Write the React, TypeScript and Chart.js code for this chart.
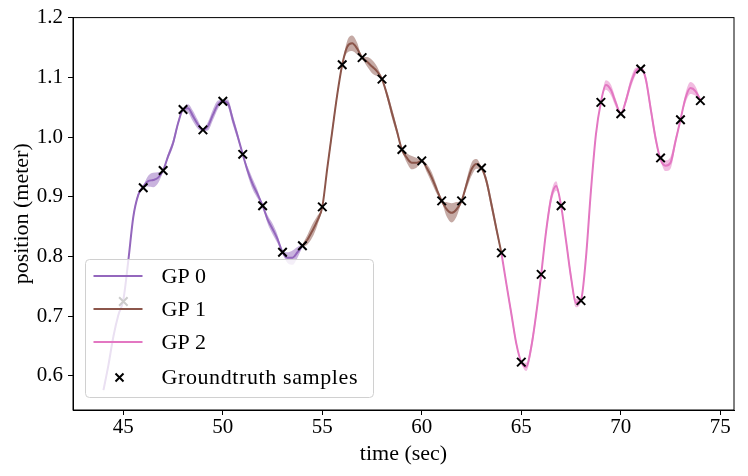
import { useEffect, useRef } from 'react';
import { Chart, registerables } from 'chart.js';

Chart.register(...registerables);

// GP 0 (purple) — every quarter second
const gp0Time = [44, 44.25, 44.5, 44.75, 45, 45.25, 45.5, 45.75, 46, 46.25, 46.5, 46.75, 47, 47.25, 47.5, 47.75, 48, 48.25, 48.5, 48.75, 49, 49.25, 49.5, 49.75, 50, 50.25, 50.5, 50.75, 51, 51.25, 51.5, 51.75, 52, 52.25, 52.5, 52.75, 53, 53.25, 53.5, 53.75, 54];
const gp0Mean = [0.576, 0.618, 0.666, 0.702, 0.727, 0.793, 0.866, 0.903, 0.917, 0.926, 0.928, 0.932, 0.944, 0.968, 0.99, 1.023, 1.046, 1.048, 1.035, 1.021, 1.012, 1.018, 1.037, 1.054, 1.06, 1.057, 1.029, 1.001, 0.971, 0.943, 0.921, 0.904, 0.885, 0.862, 0.846, 0.829, 0.807, 0.798, 0.798, 0.807, 0.818];
const gp0Spread = [0.003, 0.003, 0.003, 0.003, 0.002, 0.004, 0.004, 0.004, 0.002, 0.009, 0.012, 0.009, 0.002, 0.005, 0.006, 0.005, 0.002, 0.007, 0.009, 0.007, 0.002, 0.007, 0.009, 0.007, 0.002, 0.006, 0.008, 0.006, 0.002, 0.007, 0.009, 0.007, 0.002, 0.007, 0.009, 0.007, 0.002, 0.009, 0.012, 0.009, 0.002];

// GP 1 (brown)
const gp1Time = [54, 54.25, 54.5, 54.75, 55, 55.25, 55.5, 55.75, 56, 56.25, 56.5, 56.75, 57, 57.25, 57.5, 57.75, 58, 58.25, 58.5, 58.75, 59, 59.25, 59.5, 59.75, 60, 60.25, 60.5, 60.75, 61, 61.25, 61.5, 61.75, 62, 62.25, 62.5, 62.75, 63, 63.25, 63.5, 63.75, 64];
const gp1Mean = [0.818, 0.828, 0.843, 0.86, 0.883, 0.948, 1.01, 1.071, 1.121, 1.151, 1.157, 1.148, 1.133, 1.126, 1.118, 1.11, 1.097, 1.071, 1.04, 1.01, 0.979, 0.965, 0.957, 0.957, 0.96, 0.948, 0.932, 0.912, 0.893, 0.879, 0.873, 0.879, 0.893, 0.921, 0.946, 0.955, 0.948, 0.926, 0.887, 0.846, 0.806];
const gp1Spread = [0.002, 0.008, 0.011, 0.008, 0.002, 0.005, 0.007, 0.005, 0.002, 0.01, 0.013, 0.01, 0.002, 0.008, 0.011, 0.008, 0.002, 0.006, 0.008, 0.006, 0.002, 0.008, 0.011, 0.008, 0.002, 0.007, 0.009, 0.007, 0.002, 0.012, 0.016, 0.012, 0.002, 0.008, 0.011, 0.008, 0.002, 0.007, 0.009, 0.007, 0.002];

// GP 2 (pink)
const gp2Time = [64, 64.25, 64.5, 64.75, 65, 65.25, 65.5, 65.75, 66, 66.25, 66.5, 66.75, 67, 67.25, 67.5, 67.75, 68, 68.25, 68.5, 68.75, 69, 69.25, 69.5, 69.75, 70, 70.25, 70.5, 70.75, 71, 71.25, 71.5, 71.75, 72, 72.25, 72.5, 72.75, 73, 73.25, 73.5, 73.75, 74];
const gp2Mean = [0.806, 0.754, 0.704, 0.654, 0.623, 0.615, 0.648, 0.704, 0.77, 0.843, 0.898, 0.918, 0.885, 0.826, 0.765, 0.722, 0.727, 0.798, 0.91, 1.004, 1.058, 1.087, 1.079, 1.057, 1.039, 1.06, 1.09, 1.11, 1.115, 1.098, 1.048, 0.998, 0.962, 0.952, 0.957, 0.993, 1.029, 1.065, 1.082, 1.077, 1.062];
const gp2Spread = [0.002, 0.005, 0.007, 0.005, 0.002, 0.007, 0.009, 0.007, 0.002, 0.007, 0.009, 0.008, 0.002, 0.006, 0.008, 0.007, 0.002, 0.005, 0.007, 0.005, 0.002, 0.008, 0.009, 0.007, 0.002, 0.006, 0.008, 0.006, 0.002, 0.007, 0.009, 0.008, 0.002, 0.009, 0.01, 0.007, 0.002, 0.008, 0.01, 0.008, 0.002];

// groundtruth samples, one per second
const sampleTime = [45, 46, 47, 48, 49, 50, 51, 52, 53, 54, 55, 56, 57, 58, 59, 60, 61, 62, 63, 64, 65, 66, 67, 68, 69, 70, 71, 72, 73, 74];
const samplePosition = [0.7245, 0.915, 0.944, 1.046, 1.012, 1.06, 0.971, 0.885, 0.807, 0.818, 0.883, 1.121, 1.133, 1.097, 0.979, 0.96, 0.893, 0.893, 0.948, 0.806, 0.623, 0.77, 0.885, 0.726, 1.058, 1.039, 1.114, 0.965, 1.029, 1.061];

const xTickValues = [45, 50, 55, 60, 65, 70, 75];
const yTickValues = [0.6, 0.7, 0.8, 0.9, 1.0, 1.1, 1.2];

const gpLabels = ['GP 0', 'GP 1', 'GP 2'];
const gpColors = ['#9467bd', '#8c564b', '#e377c2'];
const gpBands = ['rgba(148, 103, 189, 0.5)', 'rgba(140, 86, 75, 0.5)', 'rgba(227, 119, 194, 0.5)'];
const sampleLabel = 'Groundtruth samples';

const serif = '"Liberation Serif", "Times New Roman", serif';

const toPoints = (xs: number[], ys: number[]) => xs.map((x, i) => ({ x, y: ys[i] }));

// matplotlib-style legend box in the lower left, plus the full axes frame
const framePlugin = {
  id: 'frameAndLegend',
  afterDraw(chart: any) {
    const { ctx, chartArea } = chart;
    ctx.save();
    ctx.strokeStyle = '#000';
    ctx.lineWidth = 1;
    ctx.strokeRect(chartArea.left, chartArea.top, chartArea.right - chartArea.left, chartArea.bottom - chartArea.top);

    const bx = 85.5, by = 259.5, bw = 288, bh = 138;
    ctx.beginPath();
    ctx.roundRect(bx, by, bw, bh, 4);
    ctx.fillStyle = 'rgba(255, 255, 255, 0.8)';
    ctx.fill();
    ctx.strokeStyle = '#d0d0d0';
    ctx.stroke();

    const rowY = [276, 309, 342, 377.5];
    ctx.font = `22px ${serif}`;
    ctx.textBaseline = 'alphabetic';
    ctx.fillStyle = '#000';
    gpLabels.forEach((label, i) => {
      ctx.strokeStyle = gpColors[i];
      ctx.lineWidth = 2;
      ctx.beginPath();
      ctx.moveTo(93.5, rowY[i]);
      ctx.lineTo(142.5, rowY[i]);
      ctx.stroke();
      ctx.fillText(label, 161.5, rowY[i] + 6.5);
    });
    const my = rowY[3];
    ctx.strokeStyle = '#000';
    ctx.lineWidth = 2;
    ctx.beginPath();
    ctx.moveTo(115.5, my - 4);
    ctx.lineTo(123.5, my + 4);
    ctx.moveTo(123.5, my - 4);
    ctx.lineTo(115.5, my + 4);
    ctx.stroke();
    ctx.letterSpacing = '0.6px';
    ctx.fillText(sampleLabel, 161.5, my + 6);
    ctx.restore();
  },
};

const App: React.FC = () => {
  const canvasRef = useRef<HTMLCanvasElement | null>(null);

  useEffect(() => {
    const canvas = canvasRef.current;
    if (!canvas) {
      return;
    }

    const series = [
      { time: gp0Time, mean: gp0Mean, spread: gp0Spread },
      { time: gp1Time, mean: gp1Mean, spread: gp1Spread },
      { time: gp2Time, mean: gp2Mean, spread: gp2Spread },
    ];

    const datasets: any[] = [];
    series.forEach((s, g) => {
      datasets.push({
        label: `${gpLabels[g]} lower`,
        data: toPoints(s.time, s.mean.map((m, i) => m - s.spread[i])),
        borderWidth: 0,
        pointRadius: 0,
        fill: false,
        cubicInterpolationMode: 'monotone',
        order: 2,
      });
      datasets.push({
        label: `${gpLabels[g]} upper`,
        data: toPoints(s.time, s.mean.map((m, i) => m + s.spread[i])),
        borderWidth: 0,
        pointRadius: 0,
        fill: '-1',
        backgroundColor: gpBands[g],
        cubicInterpolationMode: 'monotone',
        order: 2,
      });
      datasets.push({
        label: gpLabels[g],
        data: toPoints(s.time, s.mean),
        borderColor: gpColors[g],
        borderWidth: 2,
        pointRadius: 0,
        fill: false,
        cubicInterpolationMode: 'monotone',
        order: 1,
      });
    });
    datasets.push({
      type: 'scatter',
      label: sampleLabel,
      data: toPoints(sampleTime, samplePosition),
      pointStyle: 'crossRot',
      pointRadius: 6,
      pointBorderWidth: 2,
      borderColor: '#000',
      backgroundColor: '#000',
      showLine: false,
      order: 0,
    });

    const tickFont = { family: serif, size: 21 };
    const titleFont = { family: serif, size: 22 };

    const chart = new Chart(canvas, {
      type: 'line',
      data: { datasets },
      plugins: [framePlugin],
      options: {
        animation: false,
        responsive: true,
        maintainAspectRatio: false,
        events: [],
        layout: { padding: { top: 16, right: 14, left: 0, bottom: 0 } },
        plugins: {
          legend: { display: false },
          tooltip: { enabled: false },
        },
        scales: {
          x: {
            type: 'linear',
            min: 42.47,
            max: 75.69,
            afterBuildTicks: (scale: any) => {
              scale.ticks = xTickValues.map((value) => ({ value }));
            },
            afterFit: (scale: any) => {
              scale.height = 66;
            },
            ticks: {
              font: tickFont,
              color: '#000',
              padding: 0,
              maxRotation: 0,
              callback: (v: any) => String(v),
            },
            grid: { drawOnChartArea: false, drawTicks: true, tickLength: 5, color: '#000' },
            border: { display: true, color: '#000', width: 1 },
            title: {
              display: true,
              text: 'time (sec)',
              font: titleFont,
              color: '#000',
              padding: { top: 0, bottom: 8.4 },
            },
          },
          y: {
            type: 'linear',
            min: 0.5428,
            max: 1.2,
            afterBuildTicks: (scale: any) => {
              scale.ticks = yTickValues.map((value) => ({ value }));
            },
            afterFit: (scale: any) => {
              scale.width = 73;
            },
            ticks: {
              font: tickFont,
              color: '#000',
              padding: 5,
              callback: (v: any) => Number(v).toFixed(1),
            },
            grid: { drawOnChartArea: false, drawTicks: true, tickLength: 5, color: '#000' },
            border: { display: true, color: '#000', width: 1 },
            title: {
              display: true,
              text: 'position (meter)',
              font: titleFont,
              color: '#000',
              padding: { top: 9, bottom: 0 },
            },
          },
        },
      },
    });

    return () => {
      chart.destroy();
    };
  }, []);

  return (
    <div style={{ position: 'absolute', left: 0, top: 0, width: 748, height: 476, background: '#fff' }}>
      <canvas ref={canvasRef} />
    </div>
  );
};

export default App;
